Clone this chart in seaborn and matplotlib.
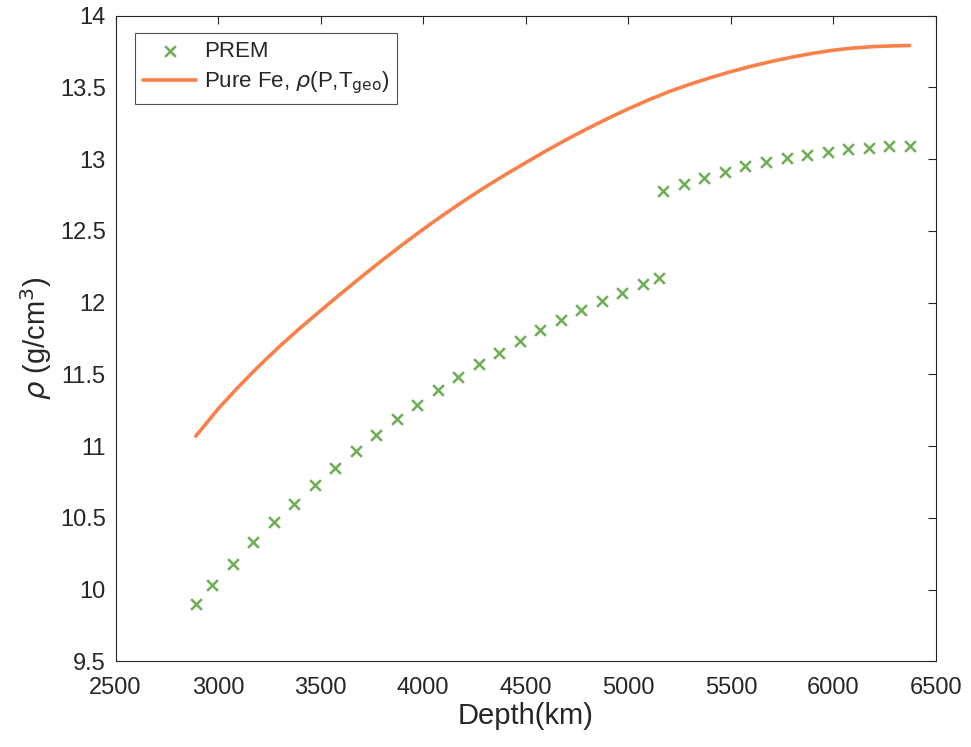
import matplotlib
matplotlib.use("Agg")
import matplotlib.pyplot as plt
import seaborn as sns
import pandas as pd

# PREM density (core)
prem_depth = [2891, 2971, 3071, 3171, 3271, 3371, 3471, 3571, 3671, 3771, 3871, 3971,
              4071, 4171, 4271, 4371, 4471, 4571, 4671, 4771, 4871, 4971, 5071, 5150,
              5171, 5271, 5371, 5471, 5571, 5671, 5771, 5871, 5971, 6071, 6171, 6271, 6371]
prem_rho = [9.90, 10.03, 10.18, 10.33, 10.47, 10.60, 10.73, 10.85, 10.97, 11.08, 11.19, 11.29,
            11.39, 11.48, 11.57, 11.65, 11.73, 11.81, 11.88, 11.95, 12.01, 12.07, 12.13, 12.17,
            12.78, 12.83, 12.87, 12.91, 12.95, 12.98, 13.01, 13.03, 13.05, 13.07, 13.08, 13.09, 13.09]

# Pure Fe density along geotherm
fe_depth = [2891, 3000, 3100, 3200, 3300, 3400, 3500, 3600, 3700, 3800, 3900, 4000,
            4100, 4200, 4300, 4400, 4500, 4600, 4700, 4800, 4900, 5000, 5100, 5200,
            5300, 5400, 5500, 5600, 5700, 5800, 5900, 6000, 6100, 6200, 6300, 6371]
fe_rho = [11.070, 11.260, 11.415, 11.560, 11.696, 11.824, 11.945, 12.065, 12.182, 12.296,
          12.406, 12.512, 12.614, 12.711, 12.804, 12.892, 12.976, 13.059, 13.138, 13.213,
          13.284, 13.351, 13.414, 13.472, 13.522, 13.568, 13.610, 13.648, 13.682, 13.712,
          13.738, 13.760, 13.775, 13.785, 13.790, 13.792]

x_ticks = [2500, 3000, 3500, 4000, 4500, 5000, 5500, 6000, 6500]
y_ticks = [9.5, 10, 10.5, 11, 11.5, 12, 12.5, 13, 13.5, 14]

sns.set_style("white")
plt.rcParams['font.family'] = ['Liberation Sans', 'DejaVu Sans']
plt.rcParams['mathtext.fontset'] = 'dejavusans'

prem = pd.DataFrame({"depth": prem_depth, "rho": prem_rho})
fe = pd.DataFrame({"depth": fe_depth, "rho": fe_rho})

fig = plt.figure(figsize=(9.71, 7.47), dpi=100)
ax = fig.add_axes([0.119, 0.1145, 0.845, 0.8645])

green = '#6DAE52'
orange = '#F98149'

sns.scatterplot(data=prem, x="depth", y="rho", marker='x', color=green, s=60,
                linewidth=1.8, ax=ax, label='PREM', zorder=3)
sns.lineplot(data=fe, x="depth", y="rho", color=orange, linewidth=2.6, ax=ax,
             label=r'Pure Fe, $\rho$(P,T$_{\rm geo}$)', sort=False)

ax.set_xlim(2500, 6500)
ax.set_ylim(9.5, 14)
ax.set_xticks(x_ticks)
ax.set_yticks(y_ticks)
ax.set_xticklabels([str(v) for v in x_ticks])
ax.set_yticklabels([('%g' % v) for v in y_ticks])
ax.tick_params(direction='in', length=6, width=0.8, color='#262626',
               top=True, right=True, labelsize=17, labelcolor='#262626')
ax.tick_params(axis='x', pad=11)
ax.tick_params(axis='y', pad=7)
for s in ax.spines.values():
    s.set_color('#262626')
    s.set_linewidth(0.8)

ax.set_xlabel('Depth(km)', fontsize=21, color='#262626', labelpad=2)
ax.set_ylabel(r'$\rho$ (g/cm$^3$)', fontsize=21, color='#262626', labelpad=4)

leg = ax.legend(loc='upper left', bbox_to_anchor=(0.0238, 0.973), borderaxespad=0,
                fontsize=16, frameon=True, fancybox=False, handlelength=2.4,
                handletextpad=0.35, borderpad=0.35, labelspacing=0.35)
leg.get_frame().set_edgecolor('#262626')
leg.get_frame().set_linewidth(0.8)

fig.savefig('out.png', dpi=100)
